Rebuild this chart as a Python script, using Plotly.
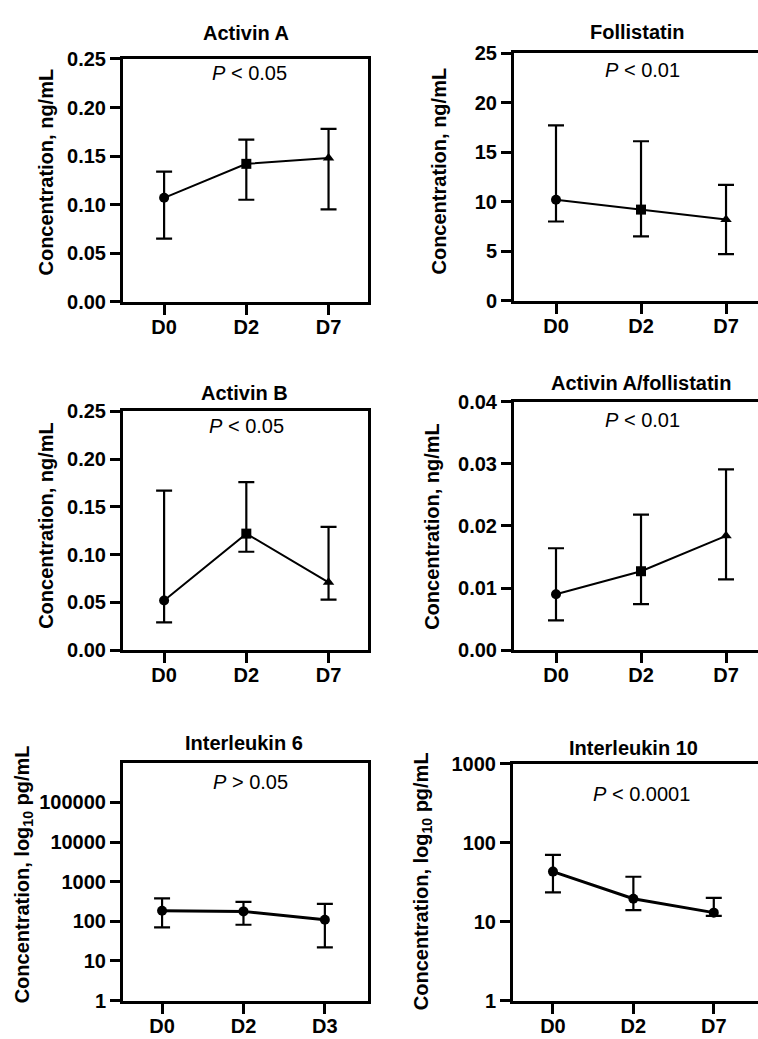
import plotly.graph_objects as go

W, H = 758, 1039

# ---------------- data ----------------
days = ["D0", "D2", "D7"]
days_il6 = ["D0", "D2", "D3"]

act_a_mean = [0.107, 0.142, 0.148]
act_a_upper = [0.134, 0.167, 0.178]
act_a_lower = [0.065, 0.105, 0.095]

fst_mean = [10.2, 9.2, 8.2]
fst_upper = [17.7, 16.1, 11.7]
fst_lower = [8.0, 6.5, 4.7]

act_b_mean = [0.052, 0.122, 0.071]
act_b_upper = [0.167, 0.176, 0.129]
act_b_lower = [0.029, 0.103, 0.053]

ratio_mean = [0.0090, 0.0127, 0.0184]
ratio_upper = [0.0164, 0.0218, 0.0291]
ratio_lower = [0.0048, 0.0074, 0.0114]

il6_mean = [185, 178, 110]
il6_upper = [380, 310, 275]
il6_lower = [70, 82, 22]

il10_mean = [43, 19.5, 13]
il10_upper = [70, 37, 20]
il10_lower = [23.5, 14, 11.8]

titles = ["Activin A", "Follistatin", "Activin B", "Activin A/follistatin",
          "Interleukin 6", "Interleukin 10"]
pvals = ["<0.05", "<0.01", "<0.05", "<0.01", ">0.05", "<0.0001"]

FONT = "Liberation Sans, Arial, Helvetica, sans-serif"
FS = 20


def px(x):
    return x / W


def py(y):
    return 1 - y / H


panels = [
    dict(l=123, r=368, t=49, b=297, xr=[-0.5, 2.48], tt=(246, 22), pp=(249, 63), yt=(46, 165),
         mean=act_a_mean, up=act_a_upper, lo=act_a_lower, cats=days,
         sym=["circle", "square", "triangle-up"], yr=[0, 0.25],
         tv=[0, 0.05, 0.10, 0.15, 0.20, 0.25], tf=".2f", log=False, right=True, lw=2,
         ytitle="Concentration, ng/mL"),
    dict(l=514, r=758, t=43, b=296, xr=[-0.494, 2.376], tt=(637, 21), pp=(642, 60), yt=(439, 164),
         mean=fst_mean, up=fst_upper, lo=fst_lower, cats=days,
         sym=["circle", "square", "triangle-up"], yr=[0, 25],
         tv=[0, 5, 10, 15, 20, 25], tf="d", log=False, right=False, lw=2,
         ytitle="Concentration, ng/mL"),
    dict(l=123, r=368, t=409, b=653, xr=[-0.5, 2.48], tt=(244, 390), pp=(246, 424), yt=(46, 526),
         mean=act_b_mean, up=act_b_upper, lo=act_b_lower, cats=days,
         sym=["circle", "square", "triangle-up"], yr=[0, 0.25],
         tv=[0, 0.05, 0.10, 0.15, 0.20, 0.25], tf=".2f", log=False, right=True, lw=2,
         ytitle="Concentration, ng/mL"),
    dict(l=514, r=758, t=399, b=653, xr=[-0.494, 2.376], tt=(641, 380), pp=(642, 418), yt=(432, 527),
         mean=ratio_mean, up=ratio_upper, lo=ratio_lower, cats=days,
         sym=["circle", "square", "triangle-up"], yr=[0, 0.04],
         tv=[0, 0.01, 0.02, 0.03, 0.04], tf=".2f", log=False, right=False, lw=2,
         ytitle="Concentration, ng/mL"),
    dict(l=123, r=368, t=768, b=1011, xr=[-0.48, 2.53], tt=(244, 748), pp=(250, 788), yt=(23, 882),
         mean=il6_mean, up=il6_upper, lo=il6_lower, cats=days_il6,
         sym=["circle", "circle", "circle"], yr=[0, 6],
         tv=[1, 10, 100, 1000, 10000, 100000], tf="d", log=True, right=True, lw=3,
         ytitle="Concentration, log<sub>10</sub> pg/mL"),
    dict(l=513, r=758, t=769, b=1011, xr=[-0.497, 2.55], tt=(633, 753), pp=(641, 800), yt=(422, 889),
         mean=il10_mean, up=il10_upper, lo=il10_lower, cats=days,
         sym=["circle", "circle", "circle"], yr=[0, 3],
         tv=[1, 10, 100, 1000], tf="d", log=True, right=False, lw=3,
         ytitle="Concentration, log<sub>10</sub> pg/mL"),
]

fig = go.Figure()
annotations = []
layout = {}

for i, p in enumerate(panels):
    n = i + 1
    xa = "x" if n == 1 else f"x{n}"
    ya = "y" if n == 1 else f"y{n}"
    xkey = "xaxis" if n == 1 else f"xaxis{n}"
    ykey = "yaxis" if n == 1 else f"yaxis{n}"

    xs = list(range(len(p["cats"])))
    plus = [u - m for u, m in zip(p["up"], p["mean"])]
    minus = [m - l for m, l in zip(p["mean"], p["lo"])]

    fig.add_trace(go.Scatter(
        x=xs, y=p["mean"], xaxis=xa, yaxis=ya, mode="lines+markers",
        line=dict(color="black", width=p["lw"]),
        marker=dict(color="black", size=10, symbol=p["sym"]),
        error_y=dict(type="data", symmetric=False, array=plus, arrayminus=minus,
                     color="black", thickness=2.2, width=8),
        showlegend=False, cliponaxis=False,
    ))

    layout[xkey] = dict(
        domain=[px(p["l"]), px(p["r"])], anchor=ya, range=p["xr"],
        tickvals=xs, ticktext=p["cats"], showline=True, linecolor="black", linewidth=3,
        mirror=True, ticks="outside", ticklen=10, tickwidth=3, tickcolor="black",
        showgrid=False, zeroline=False, ticklabelstandoff=-5, fixedrange=True,
        tickfont=dict(family=FONT, size=FS, color="black", weight="bold"),
    )
    ydict = dict(
        domain=[py(p["b"]), py(p["t"])], anchor=xa, range=p["yr"],
        tickvals=p["tv"], showline=True, linecolor="black", linewidth=3,
        mirror=p["right"], ticks="outside", ticklen=10, tickwidth=3, tickcolor="black",
        showgrid=False, zeroline=False, fixedrange=True,
        tickfont=dict(family=FONT, size=FS, color="black", weight="bold"),
    )
    if p["log"]:
        ydict["type"] = "log"
        ydict["ticktext"] = [str(v) for v in p["tv"]]
    else:
        ydict["tickformat"] = p["tf"]
    layout[ykey] = ydict

    annotations.append(dict(
        text=titles[i], x=px(p["tt"][0]), y=py(p["tt"][1]), xref="paper", yref="paper",
        xanchor="center", yanchor="middle", showarrow=False,
        font=dict(family=FONT, size=FS, color="black", weight="bold"),
    ))
    annotations.append(dict(
        text="<i>P</i> " + pvals[i][0] + " " + pvals[i][1:],
        x=px(p["pp"][0]), y=py(p["pp"][1]), xref="paper", yref="paper",
        xanchor="center", yanchor="middle", showarrow=False,
        font=dict(family=FONT, size=FS, color="black"),
    ))
    annotations.append(dict(
        text=p["ytitle"], x=px(p["yt"][0]), y=py(p["yt"][1]), xref="paper", yref="paper",
        xanchor="center", yanchor="middle", showarrow=False, textangle=-90,
        font=dict(family=FONT, size=FS, color="black", weight="bold"),
    ))

fig.update_layout(
    width=W, height=H, margin=dict(l=0, r=0, t=0, b=0),
    paper_bgcolor="white", plot_bgcolor="white", dragmode=False,
    annotations=annotations, **layout,
)

fig.write_html("out.html", config={"displayModeBar": False, "staticPlot": True},
               post_script="document.body.style.margin='0';")
